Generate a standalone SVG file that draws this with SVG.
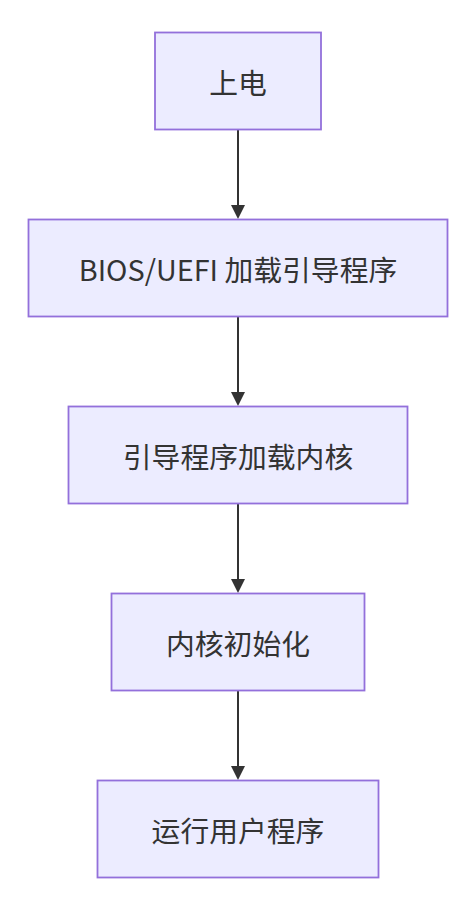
<svg xmlns="http://www.w3.org/2000/svg" width="470" height="906" viewBox="0 0 470 906">
<style>
.node rect{fill:#ECECFF;stroke:#9370DB;stroke-width:1.8}
.node text{fill:#333333;font-family:"Noto Sans CJK SC","Noto Sans",sans-serif;font-size:28.8px;text-anchor:middle;dominant-baseline:central}
.edge{stroke:#333333;stroke-width:2;fill:none}
</style>
<defs>
<marker id="arrow" viewBox="0 0 10 10" refX="5.7" refY="5" markerWidth="14" markerHeight="14" markerUnits="userSpaceOnUse" orient="auto">
<path d="M0,0 L10,5 L0,10 z" fill="#333333"/>
</marker>
</defs>
<rect width="470" height="906" fill="#ffffff"/>
<g id="edges">
<line class="edge" x1="238" y1="129.5" x2="238" y2="213" marker-end="url(#arrow)"/>
<line class="edge" x1="238" y1="316.5" x2="238" y2="400" marker-end="url(#arrow)"/>
<line class="edge" x1="238" y1="503.5" x2="238" y2="587" marker-end="url(#arrow)"/>
<line class="edge" x1="238" y1="690.5" x2="238" y2="774" marker-end="url(#arrow)"/>
</g>
<g id="n1" class="node"><rect x="155" y="32.5" width="166" height="97"/><text x="238" y="81">上电</text></g>
<g id="n2" class="node"><rect x="28.5" y="219.5" width="419" height="97"/><text x="238" y="268">BIOS/UEFI 加载引导程序</text></g>
<g id="n3" class="node"><rect x="68.5" y="406.5" width="339" height="97"/><text x="238" y="455">引导程序加载内核</text></g>
<g id="n4" class="node"><rect x="111.5" y="593.5" width="253" height="97"/><text x="238" y="642">内核初始化</text></g>
<g id="n5" class="node"><rect x="97.5" y="780.5" width="281" height="97"/><text x="238" y="829">运行用户程序</text></g>
</svg>
